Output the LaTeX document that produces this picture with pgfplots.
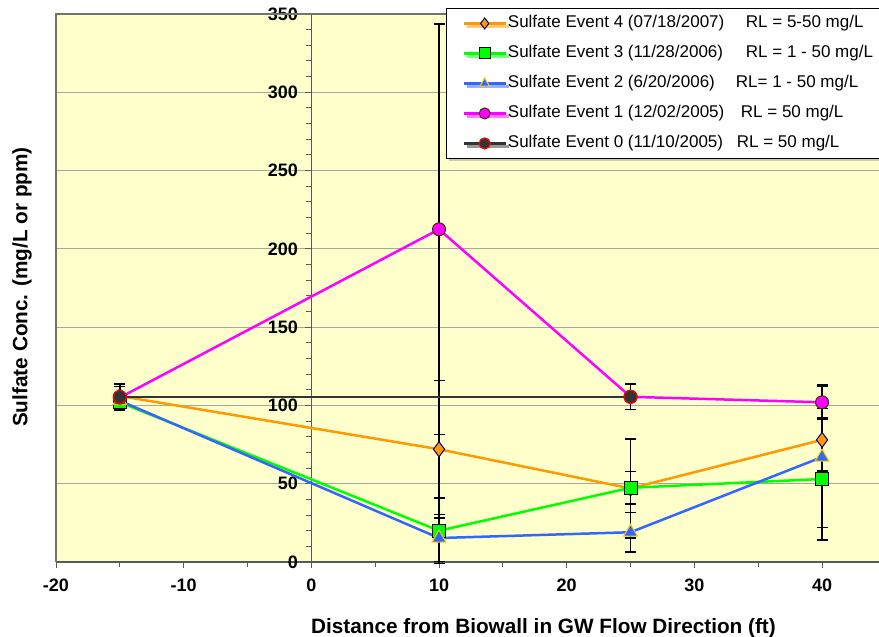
\documentclass[border=0pt]{standalone}
\usepackage{fontspec}
\setmainfont{Liberation Sans}
\usepackage{pgfplots}
\pgfplotsset{compat=1.18}
\usetikzlibrary{shadows}

\definecolor{bgyellow}{HTML}{FFFFCC}
\definecolor{ev4}{HTML}{FF9900}
\definecolor{ev4edge}{HTML}{000080}
\definecolor{ev3}{HTML}{00FF00}
\definecolor{ev2}{HTML}{3366FF}
\definecolor{ev2edge}{HTML}{FFCC00}
\definecolor{ev1}{HTML}{FF00FF}
\definecolor{ev1edge}{HTML}{333300}
\definecolor{ev0}{HTML}{333333}
\definecolor{ev0edge}{HTML}{FF0000}

\begin{document}
\begin{tikzpicture}
\path[use as bounding box] (0,0) rectangle (879pt,637pt);
\clip (0,0) rectangle (879pt,637pt);
\begin{axis}[
    at={(56pt,75pt)}, anchor=south west,
    scale only axis,
    width=823pt, height=548pt,
    xmin=-20, xmax=44.46,
    ymin=0, ymax=350,
    clip=false,
    axis background/.style={fill=bgyellow},
    axis x line*=bottom,
    axis y line*=middle,
    axis line style={draw=black!65, line width=1.5pt},
    xtick={-20,-10,...,40},
    ytick={0,50,...,350},
    minor x tick num=1,
    minor y tick num=4,
    tick align=outside,
    major tick length=6pt,
    minor tick length=5pt,
    tick style={black!65, line width=1pt},
    ymajorgrids,
    major grid style={black!35, line width=1pt},
    /pgf/number format/assume math mode=true,
    tick label style={font=\fontsize{18}{20}\selectfont\bfseries},
    xticklabel style={yshift=-7pt},
    yticklabel style={xshift=-4pt},
    legend style={
        at={(0.4739,1.0109)}, anchor=north west,
        draw=black, fill=white, line width=0.8pt,
        drop shadow={shadow xshift=3pt, shadow yshift=-3pt, fill=black!40},
        font=\fontsize{17}{18}\selectfont,
        inner xsep=16pt, inner ysep=6pt,
        row sep=12pt,
        nodes={inner sep=1pt, text height=12pt, text depth=4pt},
    },
    legend cell align=left,
    legend image code/.code={
        \draw[mark repeat=2,mark phase=2,mark size=5.5pt] plot coordinates {(0pt,0pt) (21pt,0pt) (42pt,0pt)};
    },
    error bars/y dir=both,
    error bars/y explicit,
    error bars/error bar style={black, line width=1.6pt},
    error bars/error mark options={black, rotate=90, mark size=5.5pt, line width=1.6pt},
]
\draw[black!55, line width=1.2pt] (rel axis cs:0,0) -- (rel axis cs:0,1) -- (rel axis cs:1,1);
\node[anchor=east, font=\fontsize{18}{20}\selectfont\bfseries, xshift=-10pt] at (axis cs:0,0) {0};

\addplot[color=ev4, line width=2.5pt, mark=diamond*, mark size=7.5pt,
    mark options={fill=ev4, draw=ev4edge, line width=1pt}]
coordinates {
    (-15,106) +- (0,6)
    (10,72) +- (0,44)
    (25,47) +- (0,31.5)
    (40,78) +- (0,20)
};
\addlegendentry{\makebox[238pt][l]{Sulfate Event 4 (07/18/2007)}RL = 5-50 mg/L}

\addplot[color=ev3, line width=2.5pt, mark=square*, mark size=6.5pt,
    mark options={fill=ev3, draw=black, line width=1pt}]
coordinates {
    (-15,102) +- (0,5)
    (10,20) +- (0,21)
    (25,47.4) +- (0,10.3)
    (40,53) +- (0,39)
};
\addlegendentry{\makebox[238pt][l]{Sulfate Event 3 (11/28/2006)}RL = 1 - 50 mg/L}

\addplot[color=ev2, line width=2.5pt, mark=triangle*, mark size=8pt,
    mark options={fill=ev2, draw=ev2edge, line width=1pt}]
coordinates {
    (-15,103) +- (0,5)
    (10,15.3) +- (0,15)
    (25,19) +- (0,12.6)
    (40,67) +- (0,45)
};
\addlegendentry{\makebox[228pt][l]{Sulfate Event 2 (6/20/2006)}RL= 1 - 50 mg/L}

\addplot[color=ev1, line width=2.5pt, mark=*, mark size=6.5pt,
    mark options={fill=ev1, draw=ev1edge, line width=1pt}]
coordinates {
    (-15,105) +- (0,7)
    (10,212.5) +- (0,131)
    (25,105.5) +- (0,8)
    (40,102) +- (0,11)
};
\addlegendentry{\makebox[233pt][l]{Sulfate Event 1 (12/02/2005)}RL = 50 mg/L}

\addplot[color=ev0, line width=2.5pt, mark=*, mark size=6.5pt,
    mark options={fill=ev0, draw=ev0edge, line width=1.2pt}]
coordinates {
    (-15,105.5) +- (0,8)
    (25,105.5) +- (0,8)
};
\addlegendentry{\makebox[229pt][l]{Sulfate Event 0 (11/10/2005)}RL = 50 mg/L}
\end{axis}
\node[anchor=base, font=\fontsize{20.75}{24}\selectfont\bfseries] at (543.5pt,3pt) {Distance from Biowall in GW Flow Direction (ft)};
\node[rotate=90, font=\fontsize{20.75}{24}\selectfont\bfseries] at (22pt,350pt) {Sulfate Conc. (mg/L or ppm)};
\end{tikzpicture}
\end{document}
